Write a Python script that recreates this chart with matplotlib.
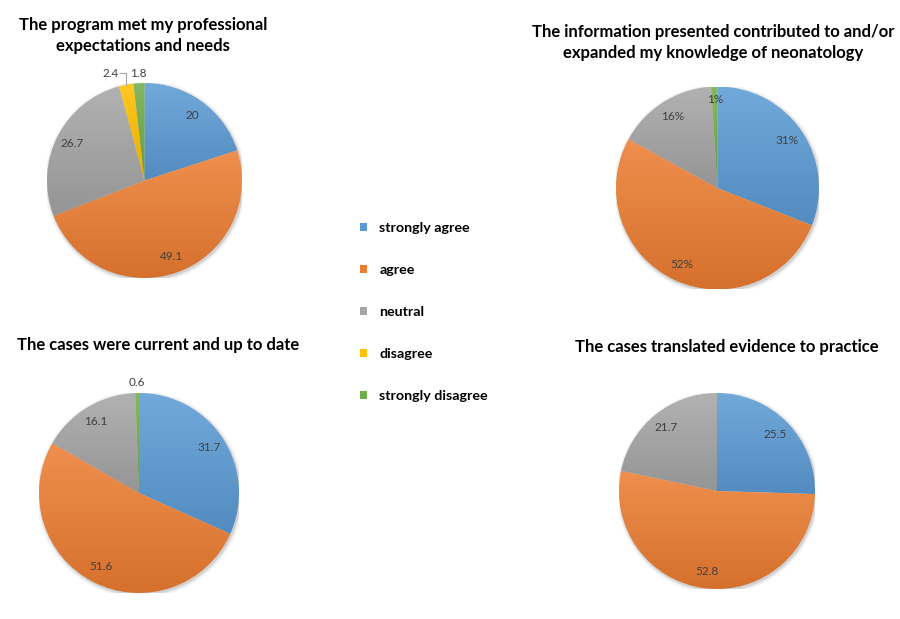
import numpy as np
import matplotlib
matplotlib.use("Agg")
import matplotlib.pyplot as plt
from matplotlib.colors import LinearSegmentedColormap, to_rgb
from matplotlib.patches import Patch

plt.rcParams['font.family'] = ['Lato', 'DejaVu Sans']

categories = ['strongly agree', 'agree', 'neutral', 'disagree', 'strongly disagree']
colors = ['#5B9BD5', '#ED7D31', '#A5A5A5', '#FFC000', '#70AD47']

program_met = [20, 49.1, 26.7, 2.4, 1.8]
knowledge = [31, 52, 16, 0, 1]
current = [31.7, 51.6, 16.1, 0, 0.6]
translated = [25.5, 52.8, 21.7, 0, 0]

titles = ['The program met my professional\nexpectations and needs',
          'The information presented contributed to and/or\nexpanded my knowledge of neonatology',
          'The cases were current and up to date',
          'The cases translated evidence to practice']

W, H = 900, 619
fig = plt.figure(figsize=(W / 100, H / 100), dpi=100)


def mix(c, other, t):
    c = np.array(to_rgb(c))
    return tuple(c * (1 - t) + np.array(other) * t)


def draw_pie(cx, cy, r, values, fmt, title, tx, ty, outside_below=3):
    ax = fig.add_axes([(cx - r) / W, 1 - (cy + r) / H, 2 * r / W, 2 * r / H])
    wedges, _ = ax.pie(values, colors=colors, startangle=90, counterclock=False,
                       wedgeprops=dict(linewidth=0))
    # soft shadow
    for k, a in zip([1.035, 1.02, 1.008], [0.08, 0.12, 0.2]):
        ax.add_patch(plt.Circle((0.01, -0.015), k, color='#808080', alpha=a, lw=0, zorder=0))
    # gradient fill per slice
    for w, c in zip(wedges, colors):
        if w.theta2 - w.theta1 <= 0:
            continue
        ext = w.get_path().get_extents()
        cmap = LinearSegmentedColormap.from_list('g', [mix(c, (0, 0, 0), 0.1), mix(c, (1, 1, 1), 0.14)])
        im = ax.imshow(np.linspace(0, 1, 256).reshape(-1, 1), extent=[ext.x0, ext.x1, ext.y0, ext.y1],
                       origin='lower', cmap=cmap, aspect='auto', zorder=2, interpolation='bilinear')
        im.set_clip_path(w)
        w.set_visible(False)
    # labels
    prev_x = None
    for w, v in reversed(list(zip(wedges, values))):
        if v == 0:
            continue
        mid = np.deg2rad((w.theta1 + w.theta2) / 2)
        txt = fmt.format(v)
        if v < outside_below:
            x, y = 1.1 * np.cos(mid), 1.1
            if prev_x is not None and prev_x - x < 0.25:
                x0, y0 = np.cos(mid), np.sin(mid)
                ax.plot([x0, x0, x0 - 0.06], [y0, 1.1, 1.1], color='#a6a6a6', lw=0.8, clip_on=False, zorder=3)
                ax.text(x0 - 0.08, 1.1, txt, ha='right', va='center', fontsize=8.5, color='#404040')
            else:
                ax.text(x, y, txt, ha='center', va='center', fontsize=8.5, color='#404040')
                prev_x = x
        else:
            d = 0.87 if v < 3 else 0.83
            ax.text(d * np.cos(mid), d * np.sin(mid), txt, ha='center', va='center',
                    fontsize=8.5, color='#404040', zorder=4)
    ax.set_xlim(-1, 1)
    ax.set_ylim(-1, 1)
    ax.set_aspect('equal')
    ax.axis('off')
    fig.text(tx / W, 1 - ty / H, title, ha='center', va='center', fontsize=12,
             fontweight='bold', linespacing=1.45)


draw_pie(144.5, 180.5, 97.5, program_met, '{:g}', titles[0], 143, 35.5)
draw_pie(717.5, 188, 101.5, knowledge, '{:g}%', titles[1], 713, 42.5, outside_below=0)
draw_pie(139, 493, 100, current, '{:g}', titles[2], 158, 345)
draw_pie(717, 491, 98, translated, '{:g}', titles[3], 727, 347)

handles = [Patch(facecolor=c, edgecolor='none') for c in colors]
fig.legend(handles, categories, loc='upper left', bbox_to_anchor=(347 / W, 1 - 209 / H),
           frameon=False, handlelength=0.5, handleheight=0.5, handletextpad=0.85,
           labelspacing=2.1, prop=dict(weight='bold', size=10.3))

fig.savefig('out.png', dpi=100)
